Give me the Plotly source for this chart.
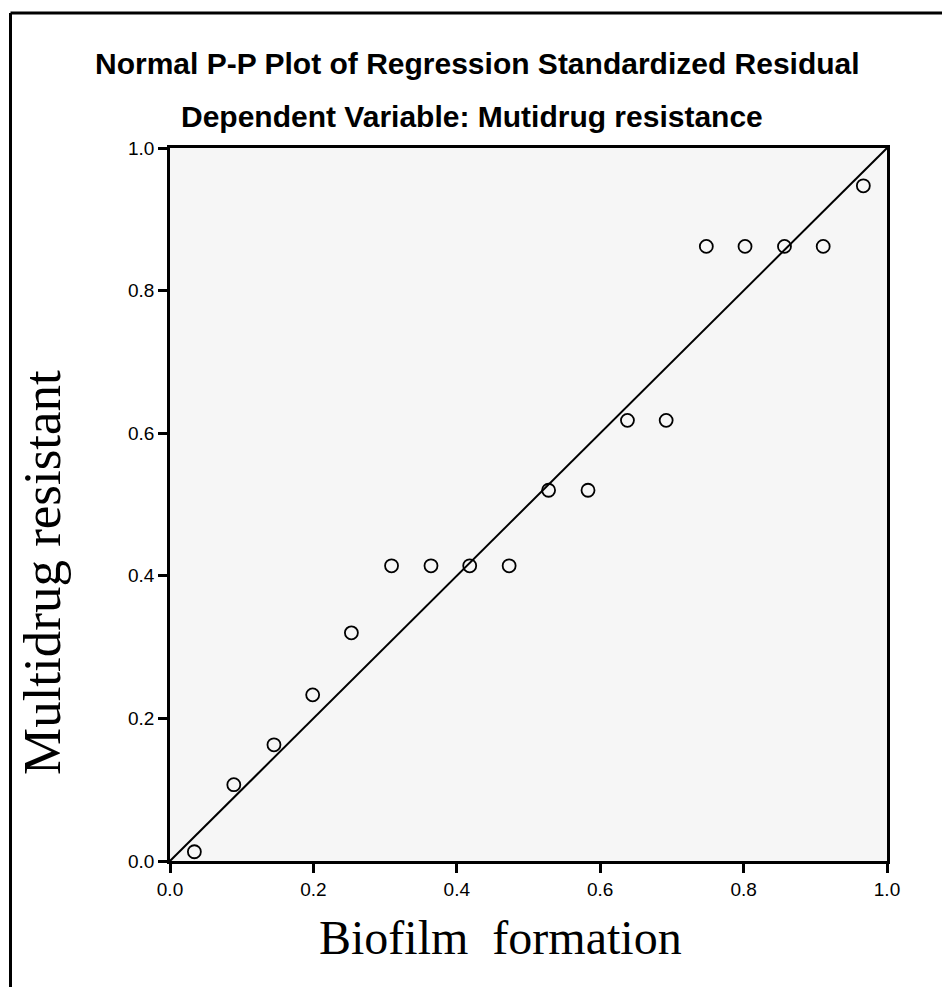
import plotly.graph_objects as go

# Observed cumulative probability (x) vs expected cumulative probability (y)
obs_cum_prob = [0.034, 0.089, 0.145, 0.199, 0.253, 0.309, 0.364, 0.418, 0.473,
                0.528, 0.583, 0.638, 0.692, 0.748, 0.802, 0.857, 0.911, 0.967]
exp_cum_prob = [0.013, 0.107, 0.163, 0.233, 0.320, 0.414, 0.414, 0.414, 0.414,
                0.520, 0.520, 0.618, 0.618, 0.862, 0.862, 0.862, 0.862, 0.947]
ref_line = [0.0, 1.0]
tick_vals = [0.0, 0.2, 0.4, 0.6, 0.8, 1.0]

title_1 = "Normal P-P Plot of Regression Standardized Residual"
title_2 = "Dependent Variable: Mutidrug resistance"
x_title = "Biofilm\u00a0 formation"
y_title = "Multidrug resistant"

W, H = 942, 987
L, R, T, B = 170, 55, 148, 126
PW, PH = W - L - R, H - T - B

def px(x):
    return (x - L) / PW

def py(y):
    return (H - B - y) / PH

fig = go.Figure()
fig.add_trace(go.Scatter(x=ref_line, y=ref_line, mode="lines",
                         line=dict(color="black", width=2), hoverinfo="skip",
                         showlegend=False))
fig.add_trace(go.Scatter(x=obs_cum_prob, y=exp_cum_prob, mode="markers",
                         marker=dict(symbol="circle-open", size=13,
                                     color="black", line=dict(width=1.8)),
                         showlegend=False))

axis_common = dict(range=[0, 1], tickvals=tick_vals, tickformat=".1f",
                   showgrid=False, zeroline=False, showline=True,
                   linecolor="black", linewidth=2.5, mirror=True,
                   ticks="outside", ticklen=9, tickwidth=2.5, tickcolor="black",
                   tickfont=dict(family="Liberation Sans, Arial", size=19, color="black"))

fig.update_layout(
    width=W, height=H,
    margin=dict(l=L, r=R, t=T, b=B),
    paper_bgcolor="white", plot_bgcolor="#f6f6f6",
    xaxis=axis_common, yaxis=axis_common,
    annotations=[
        dict(text=title_1, x=px(477), y=py(64), xref="paper", yref="paper",
             xanchor="center", yanchor="middle", showarrow=False,
             font=dict(family="Liberation Sans, Arial", size=30, color="black", weight="bold")),
        dict(text=title_2, x=px(472), y=py(116), xref="paper", yref="paper",
             xanchor="center", yanchor="middle", showarrow=False,
             font=dict(family="Liberation Sans, Arial", size=30, color="black", weight="bold")),
        dict(text=x_title, x=px(500), y=py(938), xref="paper", yref="paper",
             xanchor="center", yanchor="middle", showarrow=False,
             font=dict(family="Liberation Serif, Times New Roman", size=48, color="black")),
        dict(text=y_title, x=px(42), y=py(573), xref="paper", yref="paper",
             xanchor="center", yanchor="middle", showarrow=False, textangle=-90,
             font=dict(family="Liberation Serif, Times New Roman", size=53, color="black")),
    ],
    shapes=[
        dict(type="line", xref="paper", yref="paper", x0=px(10.5), y0=py(13),
             x1=px(950), y1=py(13), line=dict(color="black", width=3)),
        dict(type="line", xref="paper", yref="paper", x0=px(10.5), y0=py(13),
             x1=px(10.5), y1=py(995), line=dict(color="black", width=3)),
    ],
)

fig.write_html("out.html")
